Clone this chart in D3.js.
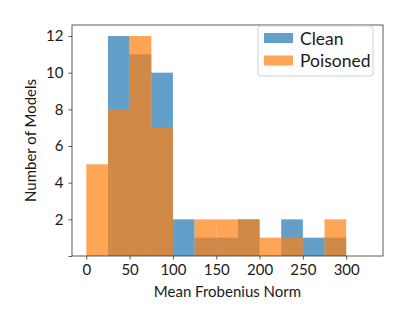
<meta charset="utf-8">
<style>
    body { margin: 0; background: #ffffff; }
    text { font-family: Lato, "Open Sans", sans-serif; fill: #1a1a1a; }
</style>
<body>
<script src="https://d3js.org/d3.v7.min.js"></script>
<script>

    // histogram bins of width 25
    const binStarts = [0, 25, 50, 75, 100, 125, 150, 175, 200, 225, 250, 275];
    const binWidth = 25;
    const cleanCounts = [0, 12, 11, 10, 2, 1, 1, 2, 0, 2, 1, 1];
    const poisonedCounts = [5, 8, 12, 7, 0, 2, 2, 2, 1, 1, 0, 2];
    const xTicks = [0, 50, 100, 150, 200, 250, 300];
    const yTicks = [0, 2, 4, 6, 8, 10, 12];

    let width = 415, height = 321;
    let mLeft = 72, mRight = 383, mTop = 25, mBottom = 256;

    let svg = d3.select("body").append("svg")
        .attr("width", width)
        .attr("height", height);

    let x = d3.scaleLinear().domain([-16.5, 342.5]).range([mLeft, mRight]);
    let y = d3.scaleLinear().domain([0, 12.6]).range([mBottom, mTop]);

    function bars(counts, color) {
        svg.append("g").selectAll("rect")
            .data(binStarts.map((s, i) => ({s: s, c: counts[i]})).filter(d => d.c > 0))
            .join("rect")
            .attr("x", d => x(d.s))
            .attr("width", d => x(d.s + binWidth) - x(d.s))
            .attr("y", d => y(d.c))
            .attr("height", d => y(0) - y(d.c))
            .attr("fill", color)
            .attr("fill-opacity", 0.7);
    }
    bars(cleanCounts, "#1f77b4");
    bars(poisonedCounts, "#ff7f0e");

    // axes
    let xAxis = svg.append("g")
        .attr("transform", "translate(0," + mBottom + ")")
        .call(d3.axisBottom(x).tickValues(xTicks).tickSize(3.5).tickPadding(5));
    let yAxis = svg.append("g")
        .attr("transform", "translate(" + mLeft + ",0)")
        .call(d3.axisLeft(y).tickValues(yTicks).tickSize(3.5).tickPadding(5)
            .tickFormat(d => d === 0 ? "" : d));
    [xAxis, yAxis].forEach(function (g) {
        g.select(".domain").remove();
        g.selectAll("line").attr("stroke", "#333").attr("stroke-width", 0.8);
        g.selectAll("text").style("font-size", "15px")
            .style("font-family", "Lato, 'Open Sans', sans-serif").attr("fill", "#1a1a1a");
    });

    svg.append("rect")
        .attr("x", mLeft).attr("y", mTop)
        .attr("width", mRight - mLeft).attr("height", mBottom - mTop)
        .attr("fill", "none").attr("stroke", "#333").attr("stroke-width", 0.8);

    svg.append("text")
        .attr("x", (mLeft + mRight) / 2).attr("y", 297)
        .attr("text-anchor", "middle").style("font-size", "15px")
        .text("Mean Frobenius Norm");
    svg.append("text")
        .attr("transform", "translate(36," + ((mTop + mBottom) / 2) + ") rotate(-90)")
        .attr("text-anchor", "middle").style("font-size", "15px")
        .text("Number of Models");

    // legend
    let legend = svg.append("g");
    legend.append("rect")
        .attr("x", 258).attr("y", 26).attr("width", 115).attr("height", 50)
        .attr("rx", 3).attr("fill", "#fff").attr("fill-opacity", 0.8)
        .attr("stroke", "#d0d0d0");
    [["Clean", "#1f77b4"], ["Poisoned", "#ff7f0e"]].forEach(function (d, i) {
        legend.append("rect")
            .attr("x", 264).attr("y", 33 + i * 22.5).attr("width", 29).attr("height", 10)
            .attr("fill", d[1]).attr("fill-opacity", 0.7);
        legend.append("text")
            .attr("x", 300).attr("y", 44.5 + i * 22.5)
            .style("font-size", "17.5px").text(d[0]);
    });

</script>
